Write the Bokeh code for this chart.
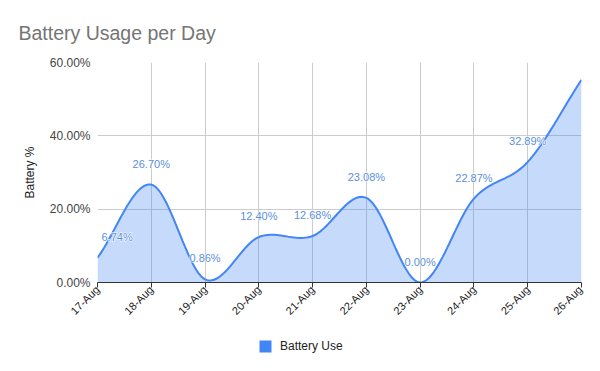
import numpy as np
from bokeh.plotting import figure
from bokeh.layouts import column
from bokeh.models import (FixedTicker, Legend, LegendItem, ColumnDataSource)
from bokeh.core.properties import value
from bokeh.embed import file_html
from bokeh.resources import INLINE

# ---- data ----
dates = ["17-Aug", "18-Aug", "19-Aug", "20-Aug", "21-Aug",
         "22-Aug", "23-Aug", "24-Aug", "25-Aug", "26-Aug"]
battery_use = [6.74, 26.70, 0.86, 12.40, 12.68, 23.08, 0.00, 22.87, 32.89, 55.30]
value_labels = ["6.74%", "26.70%", "0.86%", "12.40%", "12.68%",
                "23.08%", "0.00%", "22.87%", "32.89%", ""]
y_ticks = [0, 20, 40, 60]
y_tick_labels = ["0.00%", "20.00%", "40.00%", "60.00%"]
series_name = "Battery Use"
title_text = "Battery Usage per Day"
y_title = "Battery %"

FONT = "Liberation Sans"
BLUE = "#4285F4"

xs = np.arange(len(dates), dtype=float)
ys = np.array(battery_use, dtype=float)

# smooth curve rendering (Catmull-Rom Hermite) through the data points
n = len(ys)
m = np.zeros(n)
for i in range(n):
    if i == 0:
        m[i] = ys[1] - ys[0]
    elif i == n - 1:
        m[i] = ys[-1] - ys[-2]
    else:
        m[i] = (ys[i + 1] - ys[i - 1]) / 2.0
cx, cy = [], []
t = np.linspace(0, 1, 25)
for i in range(n - 1):
    h00 = 2 * t**3 - 3 * t**2 + 1
    h10 = t**3 - 2 * t**2 + t
    h01 = -2 * t**3 + 3 * t**2
    h11 = t**3 - t**2
    seg = h00 * ys[i] + h10 * m[i] + h01 * ys[i + 1] + h11 * m[i + 1]
    tt = t if i == 0 else t[1:]
    sg = seg if i == 0 else seg[1:]
    cx.extend(list(xs[i] + tt))
    cy.extend(list(sg))
cx = np.array(cx)
cy = np.array(cy)

p = figure(width=584, height=331, output_backend="svg", toolbar_location=None,
           x_range=(0, n - 1), y_range=(0, 60),
           min_border_left=97, min_border_right=3, min_border_top=61,
           min_border_bottom=49)
p.outline_line_color = None
p.background_fill_color = "white"

p.varea(x=cx, y1=0, y2=cy, fill_color=BLUE, fill_alpha=0.3)
p.line(x=cx, y=cy, line_color=BLUE, line_width=2)

# data labels: white halo layer, then the text itself
lab_src_first = ColumnDataSource(dict(x=[xs[0]], y=[ys[0]], t=[value_labels[0]]))
lab_src_rest = ColumnDataSource(dict(x=list(xs[1:]), y=list(ys[1:]), t=value_labels[1:]))
common = dict(text_font=value(FONT), text_font_size="11px",
              text_baseline="middle", y_offset=-21)
for halo in (True, False):
    extra = dict(text_color="white", text_outline_color="white") if halo else dict(text_color="#5b8fdc")
    p.text(x="x", y="y", text="t", source=lab_src_first, text_align="left", x_offset=4,
           **common, **extra)
    p.text(x="x", y="y", text="t", source=lab_src_rest, text_align="center",
           **common, **extra)

# grids
p.xgrid.ticker = FixedTicker(ticks=list(xs))
p.ygrid.ticker = FixedTicker(ticks=y_ticks)
p.xgrid.grid_line_color = "#cccccc"
p.ygrid.grid_line_color = "#cccccc"

# x axis
p.xaxis.ticker = FixedTicker(ticks=list(xs))
p.xaxis.major_label_overrides = {int(i): d for i, d in enumerate(dates)}
p.xaxis.major_label_orientation = np.pi / 4
p.xaxis.axis_line_color = "#333333"
p.xaxis.major_tick_line_color = "#333333"
p.xaxis.major_tick_out = 5
p.xaxis.major_tick_in = 0
p.xaxis.minor_tick_line_color = None
p.xaxis.major_label_text_font = FONT
p.xaxis.major_label_text_font_size = "11px"
p.xaxis.major_label_text_color = "#222222"
p.xaxis.major_label_standoff = 0

# y axis
p.yaxis.ticker = FixedTicker(ticks=y_ticks)
p.yaxis.major_label_overrides = {v: s for v, s in zip(y_ticks, y_tick_labels)}
p.yaxis.axis_line_color = None
p.yaxis.major_tick_line_color = None
p.yaxis.major_tick_out = 0
p.yaxis.major_tick_in = 0
p.yaxis.minor_tick_line_color = None
p.yaxis.major_label_text_font = FONT
p.yaxis.major_label_text_font_size = "12px"
p.yaxis.major_label_text_color = "#444444"
p.yaxis.major_label_standoff = 7
p.yaxis.axis_label = y_title
p.yaxis.axis_label_text_font = FONT
p.yaxis.axis_label_text_font_size = "12px"
p.yaxis.axis_label_text_font_style = "normal"
p.yaxis.axis_label_text_color = "#222222"
p.yaxis.axis_label_standoff = 10

# title
p.title.text = title_text
p.title.text_font = FONT
p.title.text_font_size = "19.5px"
p.title.text_font_style = "normal"
p.title.text_color = "#757575"
p.title.align = "left"
p.title.offset = -79
p.title.standoff = 38

# legend strip (separate small figure so the legend is not clipped)
pl = figure(width=584, height=30, output_backend="svg", toolbar_location=None,
            x_axis_type=None, y_axis_type=None,
            min_border_left=0, min_border_right=0, min_border_top=0, min_border_bottom=0)
pl.outline_line_color = None
proxy = pl.scatter(x=xs, y=ys, marker="square", size=12, fill_color=BLUE,
                   line_color=None, visible=False)
legend = Legend(items=[LegendItem(label=series_name, renderers=[proxy])],
                location=(153, 0), orientation="horizontal",
                glyph_width=30, glyph_height=30, label_height=30,
                label_standoff=-12, padding=0, margin=0, spacing=0,
                border_line_color=None, background_fill_alpha=0,
                inactive_fill_alpha=0,
                label_text_font=FONT, label_text_font_size="12px",
                label_text_color="#222222")
pl.add_layout(legend)

open("out.html", "w").write(file_html(column(p, pl), INLINE))
